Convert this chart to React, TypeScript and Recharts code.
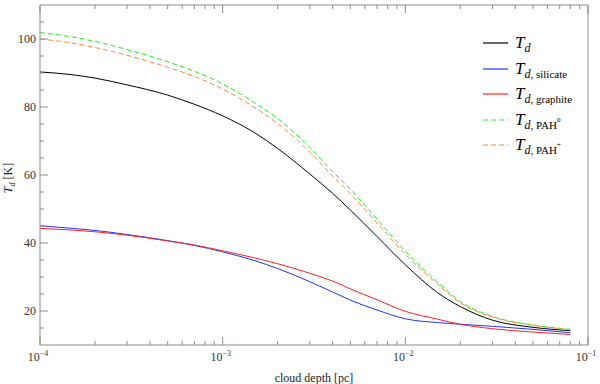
import { LineChart, Line, XAxis, YAxis } from 'recharts'

// cloud depth [pc]
const depth = [1e-4, 1.5e-4, 2e-4, 3e-4, 5e-4, 7e-4, 1e-3, 1.5e-3, 2e-3, 3e-3, 4e-3, 5e-3, 7e-3, 1e-2, 1.5e-2, 2e-2, 3e-2, 5e-2, 8e-2]

// dust temperatures [K]
const tdTotal = [90.3, 89.5, 88.5, 86.5, 83.5, 80.8, 77.4, 72.4, 67.8, 60.3, 54.6, 49.7, 41.9, 33.6, 25.4, 21.3, 17.3, 15.2, 14.2]
const tdSilicate = [45.1, 44.3, 43.7, 42.5, 40.7, 39.3, 37.4, 34.8, 32.5, 28.6, 25.6, 23.2, 20.3, 17.7, 16.6, 16.1, 15.5, 14.6, 13.6]
const tdGraphite = [44.3, 43.8, 43.3, 42.3, 40.6, 39.4, 37.7, 35.6, 33.9, 31.1, 28.8, 26.5, 23.3, 19.9, 17.6, 16.1, 14.8, 13.8, 13.1]
const tdPah0 = [101.9, 100.6, 99.3, 96.9, 93.3, 90.5, 86.8, 81.2, 76.6, 68.1, 61.0, 55.8, 47.0, 37.6, 28.5, 22.8, 18.4, 15.9, 14.6]
const tdPahPlus = [100.0, 98.8, 97.5, 95.2, 91.7, 89.0, 85.3, 79.8, 75.1, 66.7, 59.7, 54.5, 45.9, 36.7, 27.9, 22.4, 18.2, 15.8, 14.5]

const xTicks = [
  1e-4, 2e-4, 3e-4, 4e-4, 5e-4, 6e-4, 7e-4, 8e-4, 9e-4,
  1e-3, 2e-3, 3e-3, 4e-3, 5e-3, 6e-3, 7e-3, 8e-3, 9e-3,
  1e-2, 2e-2, 3e-2, 4e-2, 5e-2, 6e-2, 7e-2, 8e-2, 9e-2,
  1e-1,
]
const yTicks = [15, 20, 25, 30, 35, 40, 45, 50, 55, 60, 65, 70, 75, 80, 85, 90, 95, 100, 105]

const data = depth.map((d, i) => ({
  depth: d,
  td: tdTotal[i],
  sil: tdSilicate[i],
  gra: tdGraphite[i],
  pah0: tdPah0[i],
  pahp: tdPahPlus[i],
}))

const series = [
  { key: 'td', color: '#000000', dash: undefined, sub: '', sup: '' },
  { key: 'sil', color: '#2233ff', dash: undefined, sub: ', silicate', sup: '' },
  { key: 'gra', color: '#ff2020', dash: undefined, sub: ', graphite', sup: '' },
  { key: 'pah0', color: '#22ee22', dash: '5 3', sub: ', PAH', sup: '0' },
  { key: 'pahp', color: '#ff8833', dash: '5 3', sub: ', PAH', sup: '+' },
]

const FRAME = '#8c8c8c'
const FONT = '"Liberation Serif", "DejaVu Serif", serif'

const isMajorX = (v: number) => Math.abs(Math.log10(v) - Math.round(Math.log10(v))) < 1e-6

const XTick = (props: any) => {
  const { x, y, payload, top } = props
  const v = payload.value
  const major = isMajorX(v)
  const len = major ? 8 : 4
  const dir = top ? 1 : -1
  return (
    <g>
      <line x1={x} x2={x} y1={y} y2={y + dir * len} stroke={FRAME} strokeWidth={1} />
      {!top && major && (
        <text x={x - 2} y={y + 16} textAnchor="middle" fontSize={12} fill="#333" style={{ fontFamily: FONT }}>
          10<tspan dy={-5} fontSize={8}>{'\u2212' + Math.abs(Math.round(Math.log10(v)))}</tspan>
        </text>
      )}
    </g>
  )
}

const YTick = (props: any) => {
  const { x, y, payload, right } = props
  const v = payload.value
  const major = v % 20 === 0
  const len = major ? 8 : 4
  const dir = right ? -1 : 1
  return (
    <g>
      <line x1={x} x2={x + dir * len} y1={y} y2={y} stroke={FRAME} strokeWidth={1} />
      {!right && major && (
        <text x={x - 4} y={y + 4} textAnchor="end" fontSize={12} fill="#333" style={{ fontFamily: FONT }}>
          {v}
        </text>
      )}
    </g>
  )
}

const LegendBox = () => (
  <svg width={125} height={140} style={{ position: 'absolute', left: 475, top: 30, overflow: 'visible', fontFamily: FONT }}>
    {series.map((s, i) => {
      const cy = Math.round(13 + i * 25.5)
      return (
        <g key={s.key}>
          <line x1={8} x2={33} y1={cy} y2={cy} stroke={s.color} strokeWidth={1.2} strokeDasharray={s.dash} />
          <text x={40} y={cy + 5} fill="#000">
            <tspan fontSize={17} fontStyle="italic">T</tspan>
            <tspan fontSize={12} fontStyle="italic" dy={4}>d</tspan>
            {s.sub && <tspan fontSize={11}>{s.sub}</tspan>}
            {s.sup && <tspan fontSize={7} dy={-7}>{s.sup}</tspan>}
          </text>
        </g>
      )
    })}
  </svg>
)

export default function App() {
  return (
    <div style={{ position: 'relative', width: 600, height: 384, background: '#fff', fontFamily: FONT }}>
      <style>{'body{margin:0}'}</style>
      <LineChart width={600} height={384} data={data} margin={{ top: 0, right: 0, bottom: 0, left: 0 }} style={{ fontFamily: FONT }}>
        <XAxis
          dataKey="depth"
          type="number"
          scale="log"
          domain={[1e-4, 1e-1]}
          ticks={xTicks}
          interval={0}
          height={39}
          tickSize={0}
          tickMargin={0}
          tickLine={false}
          axisLine={{ stroke: FRAME }}
          tick={<XTick />}
          allowDataOverflow
          label={{ value: 'cloud depth [pc]', position: 'insideBottom', offset: 2, fontSize: 12, fill: '#222' }}
        />
        <XAxis
          xAxisId="top"
          orientation="top"
          dataKey="depth"
          type="number"
          scale="log"
          domain={[1e-4, 1e-1]}
          ticks={xTicks}
          interval={0}
          height={5}
          tickSize={0}
          tickMargin={0}
          tickLine={false}
          axisLine={{ stroke: FRAME }}
          tick={<XTick top />}
          allowDataOverflow
        />
        <YAxis
          type="number"
          domain={[10, 110]}
          ticks={yTicks}
          interval={0}
          width={40}
          tickSize={0}
          tickMargin={0}
          tickLine={false}
          axisLine={{ stroke: FRAME }}
          tick={<YTick />}
          label={() => (
            <text transform="rotate(-90, 12, 178)" x={12} y={178} textAnchor="middle" fontSize={12} fill="#222">
              <tspan fontStyle="italic">T</tspan>
              <tspan fontStyle="italic" fontSize={8} dy={3}>d</tspan>
              <tspan dy={-3}> [K]</tspan>
            </text>
          )}
        />
        <YAxis
          yAxisId="right"
          orientation="right"
          type="number"
          domain={[10, 110]}
          ticks={yTicks}
          interval={0}
          width={12}
          tickSize={0}
          tickMargin={0}
          tickLine={false}
          axisLine={{ stroke: FRAME }}
          tick={<YTick right />}
        />
        {series.map((s) => (
          <Line
            key={s.key}
            dataKey={s.key}
            type="monotone"
            stroke={s.color}
            strokeWidth={1}
            strokeDasharray={s.dash}
            dot={false}
            activeDot={false}
            isAnimationActive={false}
          />
        ))}
      </LineChart>
      <LegendBox />
    </div>
  )
}
